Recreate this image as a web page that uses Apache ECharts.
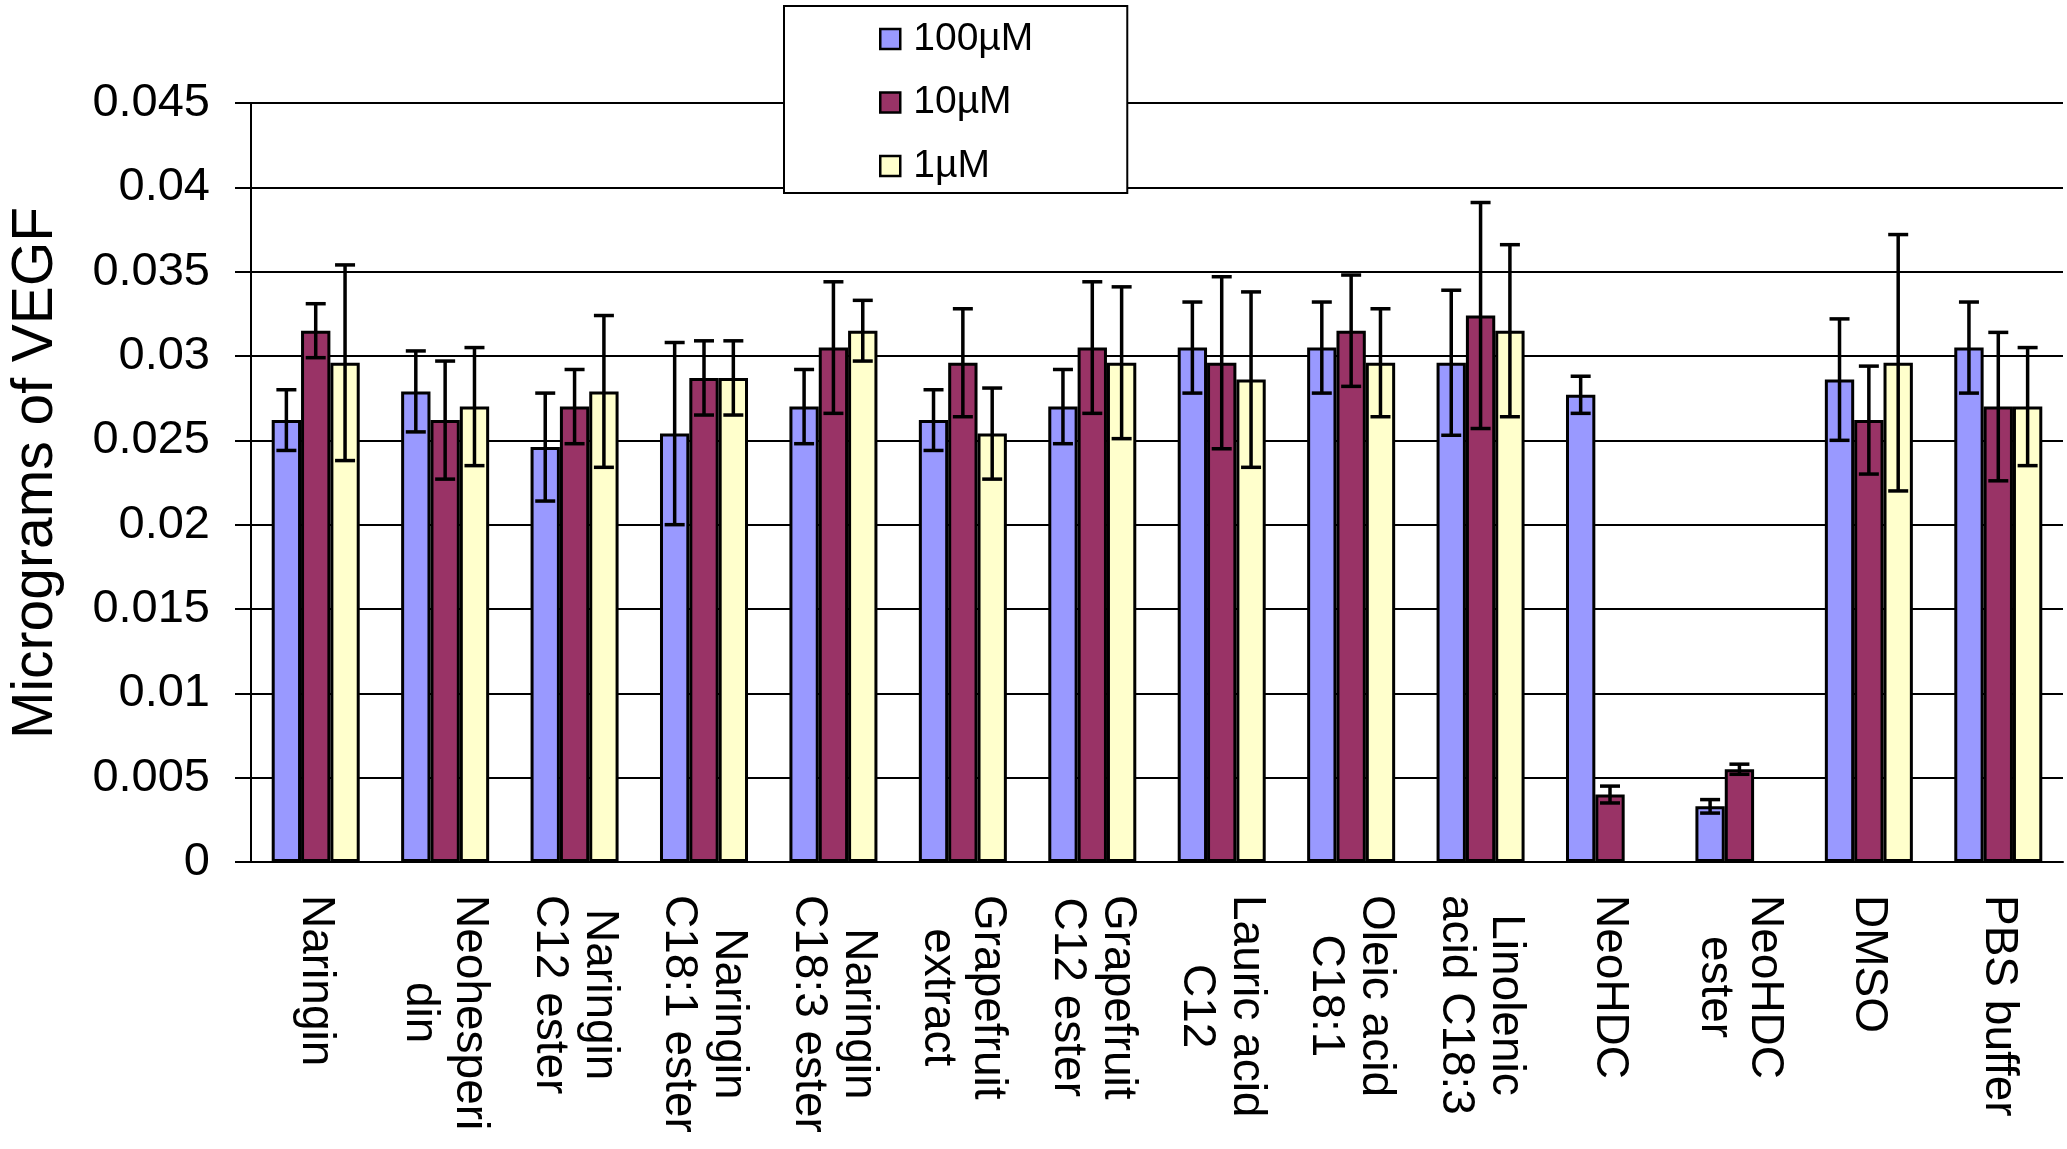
<!DOCTYPE html>
<html>
<head>
<meta charset="utf-8">
<script src="https://cdn.jsdelivr.net/npm/echarts@6/dist/echarts.min.js"></script>
<style>
  html, body { margin: 0; padding: 0; background: #fff; }
  #chart { width: 2067px; height: 1149px; }
</style>
</head>
<body>
<div id="chart"></div>
<script>
// 数据
var categories = ['Naringin', 'Neohesperi\ndin', 'Naringin\nC12 ester', 'Naringin\nC18:1 ester',
  'Naringin\nC18:3 ester', 'Grapefruit\nextract', 'Grapefruit\nC12 ester', 'Lauric acid\nC12',
  'Oleic acid\nC18:1', 'Linolenic\nacid C18:3', 'NeoHDC', 'NeoHDC\nester', 'DMSO', 'PBS buffer'];
var seriesNames = ['100µM', '10µM', '1µM'];
var v100 = [0.0262, 0.0279, 0.0246, 0.0254, 0.0270, 0.0262, 0.0270, 0.0305, 0.0305, 0.0296, 0.0277, 0.0033, 0.0286, 0.0305];
var e100 = [0.0018, 0.0024, 0.0032, 0.0054, 0.0022, 0.0018, 0.0022, 0.0027, 0.0027, 0.0043, 0.0011, 0.0004, 0.0036, 0.0027];
var v10 = [0.0315, 0.0262, 0.0270, 0.0287, 0.0305, 0.0296, 0.0305, 0.0296, 0.0315, 0.0324, 0.0040, 0.0055, 0.0262, 0.0270];
var e10 = [0.0016, 0.0035, 0.0022, 0.0022, 0.0039, 0.0032, 0.0039, 0.0051, 0.0033, 0.0067, 0.0005, 0.0003, 0.0032, 0.0044];
var v1 = [0.0296, 0.0270, 0.0279, 0.0287, 0.0315, 0.0254, 0.0296, 0.0286, 0.0296, 0.0315, null, null, 0.0296, 0.0270];
var e1 = [0.0058, 0.0035, 0.0045, 0.0022, 0.0018, 0.0027, 0.0045, 0.0052, 0.0032, 0.0051, null, null, 0.0076, 0.0035];
var yTickLabels = ['0', '0.005', '0.01', '0.015', '0.02', '0.025', '0.03', '0.035', '0.04', '0.045'];

var colors = ['#9999FF', '#993366', '#FFFFCC'];
var FONT = 'Liberation Sans, Arial, sans-serif';
var CAT_GAP = 0.32; // barCategoryGap

var values = [v100, v10, v1];
var errors = [e100, e10, e1];

// 误差线数据 [类别, 值, 误差, 系列序号]
var errData = [];
values.forEach(function (arr, s) {
  arr.forEach(function (v, i) {
    if (v != null) errData.push([i, v, errors[s][i], s]);
  });
});

var chart = echarts.init(document.getElementById('chart'));

function renderErr(params, api) {
  var idx = api.value(0);
  var val = api.value(1);
  var err = api.value(2);
  var s = api.value(3);
  var bandW = api.size([1, 0])[0];
  var barW = bandW * (1 - CAT_GAP) / 3;
  var c = api.coord([idx, val]);
  var x = c[0] + (s - 1) * barW;
  var top = api.coord([idx, val + err])[1];
  var bot = api.coord([idx, val - err])[1];
  var half = 10;
  var st = { stroke: '#000', lineWidth: 3.5 };
  return {
    type: 'group',
    children: [
      { type: 'line', shape: { x1: x, y1: top, x2: x, y2: bot }, style: st },
      { type: 'line', shape: { x1: x - half, y1: top, x2: x + half, y2: top }, style: st },
      { type: 'line', shape: { x1: x - half, y1: bot, x2: x + half, y2: bot }, style: st }
    ]
  };
}

var barSeries = values.map(function (arr, s) {
  return {
    name: seriesNames[s],
    type: 'bar',
    data: arr.map(function (v) { return v == null ? '-' : v; }),
    barGap: '0%',
    barCategoryGap: (CAT_GAP * 100) + '%',
    itemStyle: { color: colors[s], borderColor: '#000', borderWidth: 3 },
    z: 2
  };
});

var option = {
  animation: false,
  backgroundColor: '#fff',
  grid: { left: 245, right: 4, top: 103, bottom: 287 },
  legend: {
    orient: 'vertical',
    left: 784,
    top: 6,
    backgroundColor: '#fff',
    borderColor: '#000',
    borderWidth: 2,
    padding: [13, 94, 7, 95],
    icon: 'rect',
    itemWidth: 20,
    itemHeight: 20,
    itemGap: 23.5,
    itemStyle: { borderColor: '#000', borderWidth: 2.5 },
    data: seriesNames,
    textStyle: { fontFamily: FONT, fontSize: 39, lineHeight: 40, color: '#000', padding: [0, 0, 0, 8] },
    z: 10
  },
  xAxis: {
    type: 'category',
    data: categories,
    axisLine: { lineStyle: { color: '#000', width: 2 } },
    axisTick: { interval: 0, length: 15, lineStyle: { color: '#000', width: 2 } },
    axisLabel: {
      interval: 0,
      rotate: -90,
      margin: 33,
      color: '#000',
      formatter: function (v) {
        return v.split('\n').map(function (s) { return '{c|' + s + '}'; }).join('\n');
      },
      rich: {
        c: { align: 'center', fontFamily: FONT, fontSize: 46, lineHeight: 50, color: '#000' }
      }
    }
  },
  yAxis: {
    type: 'value',
    min: 0,
    max: 0.045,
    interval: 0.005,
    name: 'Micrograms of VEGF',
    nameLocation: 'middle',
    nameGap: 186,
    nameTextStyle: { fontFamily: FONT, fontSize: 57, color: '#000', padding: [0, 0, 0, 19] },
    axisLine: { show: true, lineStyle: { color: '#000', width: 2 } },
    axisTick: { show: true, length: 16, lineStyle: { color: '#000', width: 2 } },
    splitLine: { lineStyle: { color: '#000', width: 2 } },
    axisLabel: {
      margin: 41,
      fontFamily: FONT,
      fontSize: 47,
      color: '#000',
      formatter: function (v, i) { return yTickLabels[i]; }
    }
  },
  series: barSeries.concat([{
    type: 'custom',
    renderItem: renderErr,
    data: errData,
    z: 5,
    silent: true
  }])
};

chart.setOption(option);
</script>
</body>
</html>
